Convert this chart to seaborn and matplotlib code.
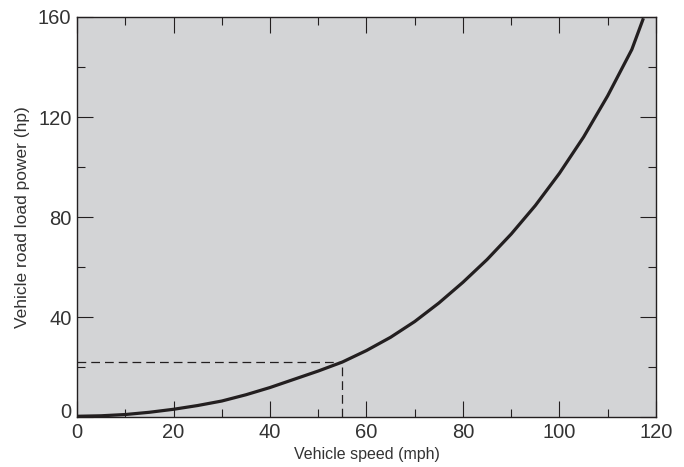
import matplotlib
matplotlib.use("Agg")
import matplotlib.pyplot as plt
import matplotlib.transforms as mtransforms
from matplotlib.ticker import MultipleLocator
import pandas as pd
import seaborn as sns

# curve (mph, hp)
speed_mph = [0, 5, 10, 15, 20, 25, 30, 35, 40, 45, 50, 55, 60, 65, 70, 75,
             80, 85, 90, 95, 100, 105, 110, 115, 117.4]
power_hp = [0.3, 0.5, 1.0, 1.9, 3.1, 4.6, 6.4, 8.9, 11.8, 15.1, 18.4, 22.0,
            26.6, 31.9, 38.2, 45.6, 53.9, 63.0, 73.2, 84.6, 97.5, 112.0,
            128.5, 147.0, 159.5]

# operating point marked with dashed guides
op_speed = 55
op_power = 22

x_ticks = [0, 20, 40, 60, 80, 100, 120]
y_ticks = [0, 40, 80, 120, 160]

df = pd.DataFrame({"speed": speed_mph, "power": power_hp})

sns.set_theme(style="ticks")
plt.rcParams["font.family"] = ["Liberation Sans", "DejaVu Sans"]

fig = plt.figure(figsize=(6.84, 4.67), dpi=100)
ax = fig.add_axes([0.1126, 0.107, 0.8464, 0.8566])
ax.set_facecolor("#d3d4d6")

# dashed guides to the operating point
ax.plot([0, op_speed], [op_power, op_power], color="#231f20", lw=0.9,
        dashes=(7, 4))
ax.plot([op_speed, op_speed], [0, op_power], color="#231f20", lw=0.9,
        dashes=(7, 4))

sns.lineplot(data=df, x="speed", y="power", ax=ax, color="#231f20",
             linewidth=2.3, estimator=None, sort=True,
             solid_joinstyle="round", solid_capstyle="butt")

ax.set_xlim(0, 120)
ax.set_ylim(0, 160)
ax.set_xticks(x_ticks)
ax.set_yticks(y_ticks)
ax.xaxis.set_minor_locator(MultipleLocator(10))
ax.yaxis.set_minor_locator(MultipleLocator(20))

ax.tick_params(which="both", direction="in", top=True, right=True,
               color="#231f20", width=0.8, labelsize=14.5,
               labelcolor="#333333")
ax.tick_params(which="major", length=11.5, pad=4)
ax.tick_params(which="minor", length=6)

# nudge the "0" y label up a bit like the reference
lab0 = ax.get_yticklabels()[0]
lab0.set_transform(lab0.get_transform() +
                   mtransforms.ScaledTranslation(0, 5 / 72, fig.dpi_scale_trans))

for s in ax.spines.values():
    s.set_color("#231f20")
    s.set_linewidth(1.0)

ax.set_xlabel("Vehicle speed (mph)", fontsize=11.5, color="#333333", labelpad=4)
ax.set_ylabel("Vehicle road load power (hp)", fontsize=12.5, color="#333333",
              labelpad=6)

fig.savefig("out.png", dpi=100)
plt.close(fig)
